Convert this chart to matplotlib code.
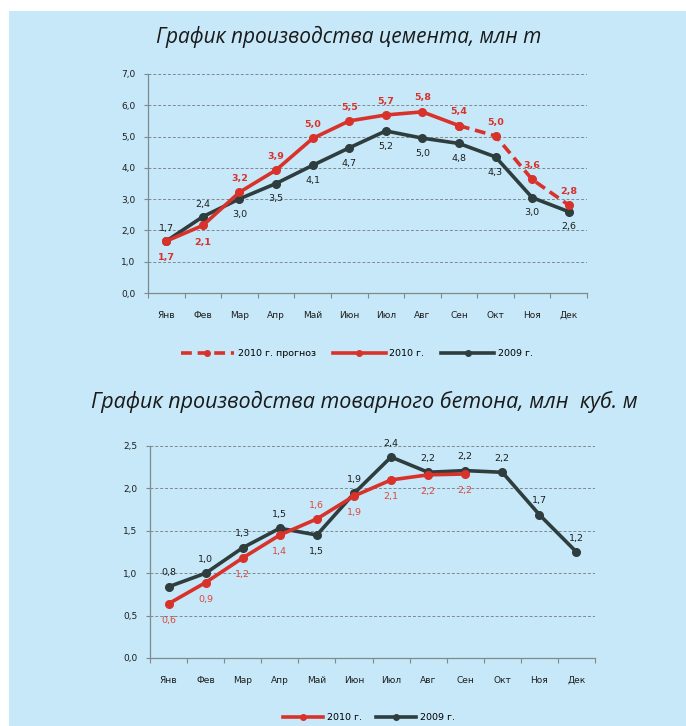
import matplotlib
matplotlib.use("Agg")
import matplotlib.pyplot as plt
from matplotlib.patches import Rectangle
from matplotlib.lines import Line2D
import numpy as np

months = ["Янв", "Фев", "Мар", "Апр", "Май", "Июн", "Июл", "Авг", "Сен", "Окт", "Ноя", "Дек"]

# Cement production, mln t
cement_2009 = [1.66, 2.44, 3.01, 3.50, 4.08, 4.64, 5.18, 4.95, 4.78, 4.35, 3.05, 2.60]
cement_2010 = [1.66, 2.16, 3.22, 3.93, 4.94, 5.50, 5.69, 5.79, 5.35]
cement_2010_forecast = [5.35, 5.02, 3.63, 2.81]  # Сен..Дек
cement_2009_labels = ["1,7", "2,4", "3,0", "3,5", "4,1", "4,7", "5,2", "5,0", "4,8", "4,3", "3,0", "2,6"]
cement_2010_labels = ["1,7", "2,1", "3,2", "3,9", "5,0", "5,5", "5,7", "5,8", "5,4", "5,0", "3,6", "2,8"]

# Ready-mix concrete production, mln cubic m
concrete_2009 = [0.84, 1.00, 1.30, 1.53, 1.45, 1.94, 2.37, 2.19, 2.21, 2.19, 1.69, 1.25]
concrete_2010 = [0.64, 0.89, 1.18, 1.45, 1.64, 1.91, 2.10, 2.16, 2.17]
concrete_2009_labels = ["0,8", "1,0", "1,3", "1,5", "1,5", "1,9", "2,4", "2,2", "2,2", "2,2", "1,7", "1,2"]
concrete_2010_labels = ["0,6", "0,9", "1,2", "1,4", "1,6", "1,9", "2,1", "2,2", "2,2"]

RED = "#d8322b"
DARK = "#2e3d3d"
BG = "#c6e8f8"
GRIDC = "#7f8a8f"
TXT = "#1e1e1e"

fig = plt.figure(figsize=(6.86, 7.26), dpi=100)
fig.patch.set_facecolor("white")
fig.patches.append(Rectangle((9 / 686, 0), 1, 1 - 11 / 726, transform=fig.transFigure,
                             facecolor=BG, edgecolor="none", zorder=-10))

title_font = dict(family="Open Sans", style="italic", color="#1a1a1a")
fig.text(349 / 686, 1 - 37 / 726, "График производства цемента, млн т", ha="center", va="center",
         fontsize=15.0, **title_font)
fig.text(364 / 686, 1 - 402 / 726, "График производства товарного бетона, млн  куб. м", ha="center", va="center",
         fontsize=15.5, **title_font)


def style_axes(ax, ymax, ystep):
    ax.set_facecolor("none")
    ax.set_xlim(-0.5, 11.5)
    ax.set_ylim(0, ymax)
    yt = np.arange(0, ymax + 1e-9, ystep)
    ax.set_yticks(yt)
    ax.set_yticklabels([f"{v:.1f}".replace(".", ",") for v in yt], fontsize=6.5, color=TXT)
    for v in yt[1:]:
        ax.axhline(v, color=GRIDC, lw=0.7, ls=(0, (3, 2)), zorder=0)
    ax.set_xticks(np.arange(-0.5, 12, 1))
    ax.set_xticklabels([])
    ax.set_xticks(np.arange(12), minor=True)
    ax.set_xticklabels(months, minor=True, fontsize=6.5, color=TXT)
    ax.tick_params(axis="x", which="minor", length=0, pad=13)
    ax.tick_params(axis="x", which="major", length=3.5, color=GRIDC, width=0.8)
    ax.tick_params(axis="y", length=3, color=GRIDC, width=0.8, pad=6)
    for s in ["top", "right"]:
        ax.spines[s].set_visible(False)
    for s in ["left", "bottom"]:
        ax.spines[s].set_color(GRIDC)
        ax.spines[s].set_linewidth(0.9)


lw = 2.6
ms = 5.5

# ---- Top chart ----
ax1 = fig.add_axes([148 / 686, 1 - 293 / 726, 439 / 686, 219 / 726])
style_axes(ax1, 7.0, 1.0)
x = np.arange(12)
ax1.plot(x, cement_2009, color=DARK, lw=lw, marker="o", ms=ms, zorder=3)
ax1.plot(x[:9], cement_2010, color=RED, lw=lw, marker="o", ms=ms, zorder=4)
ax1.plot(x[8:], cement_2010_forecast, color=RED, lw=lw, ls=(0, (3, 1.6)), marker="o", ms=ms, zorder=4)
cem10_all = cement_2010 + cement_2010_forecast[1:]
for i in range(12):
    above09 = i < 2
    ax1.annotate(cement_2009_labels[i], (x[i], cement_2009[i]), xytext=(0, 9 if above09 else -11),
                 textcoords="offset points", ha="center", va="center", fontsize=6.8, color=TXT)
    above10 = i >= 2
    ax1.annotate(cement_2010_labels[i], (x[i], cem10_all[i]), xytext=(0, 10 if above10 else -12),
                 textcoords="offset points", ha="center", va="center", fontsize=6.8,
                 color=RED, fontweight="bold")

h1 = [Line2D([], [], color=RED, lw=2.6, ls=(0, (3, 1.6)), marker="o", ms=4),
      Line2D([], [], color=RED, lw=2.6, marker="o", ms=4),
      Line2D([], [], color=DARK, lw=2.6, marker="o", ms=4)]
fig.legend(h1, ["2010 г. прогноз", "2010 г.", "2009 г."], loc="center", ncol=3,
           bbox_to_anchor=(357 / 686, 1 - 354 / 726), frameon=False, fontsize=6.8,
           handlelength=5.6, columnspacing=1.8, handletextpad=0.4)

# ---- Bottom chart ----
ax2 = fig.add_axes([150 / 686, 1 - 658 / 726, 445 / 686, 212 / 726])
style_axes(ax2, 2.5, 0.5)
ax2.plot(x, concrete_2009, color=DARK, lw=lw, marker="o", ms=ms, zorder=3)
ax2.plot(x[:9], concrete_2010, color=RED, lw=lw, marker="o", ms=ms, zorder=4)
for i in range(12):
    above09 = i != 4
    ax2.annotate(concrete_2009_labels[i], (x[i], concrete_2009[i]), xytext=(0, 10 if above09 else -12),
                 textcoords="offset points", ha="center", va="center", fontsize=6.8, color=TXT)
for i in range(9):
    above10 = i == 4
    ax2.annotate(concrete_2010_labels[i], (x[i], concrete_2010[i]), xytext=(0, 10 if above10 else -12),
                 textcoords="offset points", ha="center", va="center", fontsize=6.8, color="#e0463d")

h2 = [Line2D([], [], color=RED, lw=2.6, marker="o", ms=4),
      Line2D([], [], color=DARK, lw=2.6, marker="o", ms=4)]
fig.legend(h2, ["2010 г.", "2009 г."], loc="center", ncol=2,
           bbox_to_anchor=(369 / 686, 1 - 718 / 726), frameon=False, fontsize=6.8,
           handlelength=4.2, columnspacing=1.5, handletextpad=0.4)

fig.savefig("out.png", dpi=100, facecolor=fig.get_facecolor())
